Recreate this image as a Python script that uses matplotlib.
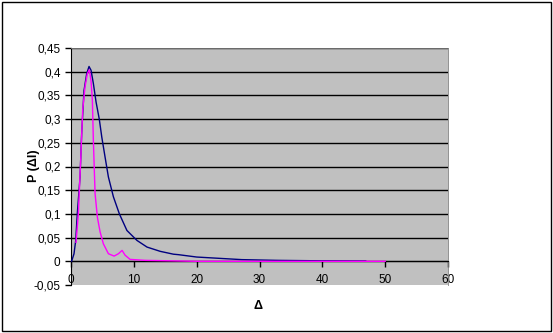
import matplotlib.pyplot as plt
from matplotlib.ticker import FuncFormatter
from matplotlib.patches import Rectangle

# blue curve
x_blue = [0.0, 0.1, 0.48, 0.75, 1.0, 1.44, 1.7, 2.07, 2.5, 2.87, 3.19, 3.56, 3.99,
          4.5, 4.9, 5.42, 5.95, 6.75, 7.7, 8.9, 10.5, 12.1, 14.2, 16.3, 17.1, 20.0,
          27.2, 32.8, 40.0, 46.9]
y_blue = [0.0, 0.0, 0.016, 0.044, 0.10, 0.178, 0.27, 0.36, 0.396, 0.411, 0.403, 0.375,
          0.336, 0.30, 0.262, 0.22, 0.178, 0.136, 0.10, 0.065, 0.044, 0.03, 0.021, 0.015,
          0.014, 0.009, 0.0035, 0.002, 0.001, 0.0005]

# magenta curve
x_mag = [0.8, 1.17, 1.54, 1.86, 2.23, 2.6, 2.92, 3.19, 3.4, 3.56, 3.83, 4.2, 4.63,
         5.15, 5.95, 6.86, 7.55, 8.13, 8.6, 9.4, 11.8, 20.0, 30.0, 40.0, 50.0]
y_mag = [0.04, 0.10, 0.213, 0.319, 0.368, 0.396, 0.404, 0.38, 0.34, 0.255, 0.143,
         0.093, 0.062, 0.037, 0.016, 0.011, 0.016, 0.023, 0.013, 0.004, 0.002, 0.0,
         0.0, 0.0, 0.0]

x_ticks = [0, 10, 20, 30, 40, 50, 60]
y_ticks = [-0.05, 0, 0.05, 0.1, 0.15, 0.2, 0.25, 0.3, 0.35, 0.4, 0.45]

plt.rcParams['font.family'] = ['Liberation Sans', 'DejaVu Sans']

fig = plt.figure(figsize=(5.53, 3.33), dpi=100)
fig.patches.append(Rectangle((0.003, 0.006), 0.993, 0.988, transform=fig.transFigure,
                             fill=False, edgecolor='black', linewidth=1))
ax = fig.add_axes([71 / 553, 1 - 285 / 333, (448 - 71) / 553, (285 - 48) / 333])
ax.set_facecolor('#C0C0C0')

for yv in y_ticks[1:]:
    ax.axhline(yv, color='black', linewidth=1, zorder=1)

ax.plot(x_blue, y_blue, color='#000080', linewidth=1, zorder=3)
ax.plot(x_mag, y_mag, color='#FF00FF', linewidth=1, zorder=3)

ax.set_xlim(0, 60)
ax.set_ylim(-0.05, 0.45)
ax.set_xticks(x_ticks)
ax.set_yticks(y_ticks)

fmt = FuncFormatter(lambda v, p: ('%g' % round(v, 2)).replace('.', ','))
ax.xaxis.set_major_formatter(fmt)
ax.yaxis.set_major_formatter(fmt)

ax.spines['bottom'].set_position(('data', 0))
ax.spines['bottom'].set_color('black')
ax.spines['left'].set_color('black')
for s in ['top', 'right']:
    ax.spines[s].set_color('#808080')
    ax.spines[s].set_linewidth(0.6)
ax.tick_params(axis='both', direction='out', length=4, width=1, labelsize=8.5, color='black')
ax.tick_params(axis='x', pad=5)

fig.text(34 / 553, 1 - 166 / 333, 'P (Δl)', fontsize=9, fontweight='bold',
         rotation=90, ha='center', va='center')
fig.text(258 / 553, 1 - 306 / 333, 'Δ', fontsize=9, fontweight='bold', ha='center', va='center')

fig.savefig('out.png', dpi=100)
